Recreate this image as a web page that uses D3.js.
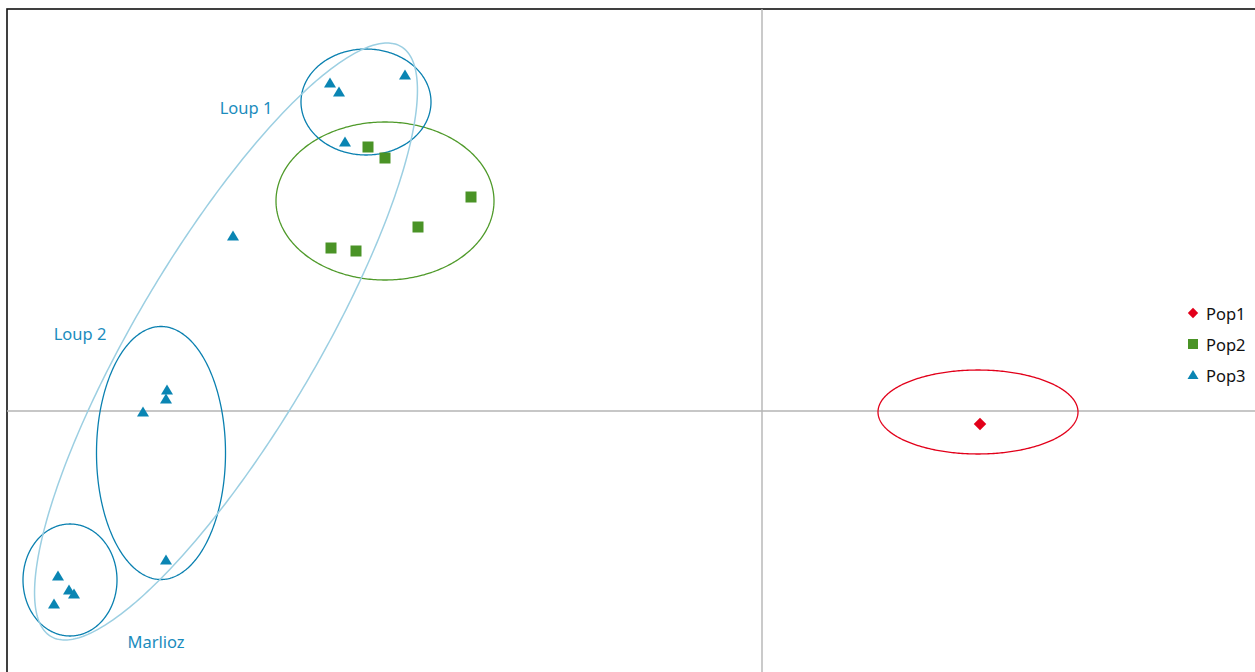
<!DOCTYPE html>
<html><head><meta charset="utf-8">
<script src="https://cdn.jsdelivr.net/npm/d3@7/dist/d3.min.js"></script>
<style>
html,body{margin:0;padding:0;background:#fff;}
svg{display:block;}
text{font-family:"Noto Sans","DejaVu Sans",sans-serif;}
</style></head>
<body>
<svg id="chart" width="1255" height="672"></svg>
<script>
// ---- data ----
const seriesNames = ["Pop1", "Pop2", "Pop3"];
const pop1X = [2.18];
const pop1Y = [-0.13];
const pop2X = [-3.94, -3.77, -2.91, -3.44, -4.31, -4.06];
const pop2Y = [2.64, 2.53, 2.14, 1.84, 1.63, 1.60];
const pop3X = [-4.32, -4.23, -3.57, -4.17, -5.29, -5.95, -5.96, -6.19, -5.96, -7.04, -6.93, -6.88, -7.08];
const pop3Y = [3.28, 3.19, 3.36, 2.69, 1.75, 0.21, 0.12, -0.01, -1.49, -1.65, -1.79, -1.83, -1.93];
// ellipses: centre x, centre y, half width, half height, tilt (deg)
const ellipseNames = ["Pop1", "Pop2", "Loup 1", "Loup 2", "Marlioz", "Pop3"];
const ellipseCX = [2.16, -3.77, -3.96, -6.01, -6.92, -5.36];
const ellipseCY = [-0.01, 2.10, 3.09, -0.42, -1.69, 0.695];
const ellipseRX = [1.00, 1.09, 0.65, 0.645, 0.47, 0.90];
const ellipseRY = [0.42, 0.79, 0.53, 1.265, 0.56, 3.43];
const ellipseTilt = [0, 0, 0, 0, 0, 30.7];
const groupLabels = ["Loup 1", "Loup 2", "Marlioz"];
const labelX = [-5.16, -6.82, -6.06];
const labelY = [3.04, 0.78, -2.30];

// ---- styles ----
const colors = {Pop1:"#e2001a", Pop2:"#4a9326", Pop3:"#0a85b3"};
const ellipseColors = ["#e2001a", "#4f9a2a", "#0a80b0", "#0a80b0", "#0a80b0", "#9ccfe2"];

const svg = d3.select("#chart");
const x = d3.scaleLinear().domain([-7.55, 4.93]).range([7, 1255]);
const y = d3.scaleLinear().domain([4.02, -2.61]).range([9, 672]);

// frame
svg.append("rect").attr("x", x(-7.55)).attr("y", y(4.02))
  .attr("width", 1300).attr("height", 700)
  .attr("fill", "none").attr("stroke", "#111").attr("stroke-width", 1.6);

// zero axes
svg.append("line").attr("x1", x(0)).attr("x2", x(0)).attr("y1", y(4.02)).attr("y2", y(-2.61))
  .attr("stroke", "#b4b4b4").attr("stroke-width", 1.4);
svg.append("line").attr("x1", x(-7.55)).attr("x2", x(4.93)).attr("y1", y(0)).attr("y2", y(0))
  .attr("stroke", "#b4b4b4").attr("stroke-width", 1.4);

// ellipses
const line = d3.line().curve(d3.curveLinearClosed);
ellipseCX.forEach((cx, i) => {
  const rx = ellipseRX[i], ry = ellipseRY[i], t = ellipseTilt[i] * Math.PI / 180;
  const pts = d3.range(0, 360, 1).map(a => {
    const r = a * Math.PI / 180;
    const lx = rx * Math.cos(r), ly = ry * Math.sin(r);
    const dx = lx * Math.cos(t) + ly * Math.sin(t);
    const dy = -lx * Math.sin(t) + ly * Math.cos(t);
    return [x(cx + dx), y(ellipseCY[i] + dy)];
  });
  svg.append("path").attr("d", line(pts)).attr("fill", "none")
    .attr("stroke", ellipseColors[i]).attr("stroke-width", i === 5 ? 1.5 : 1.3);
});

// markers
const g = svg.append("g");
g.selectAll(".p1").data(pop1X.map((v, i) => [v, pop1Y[i]])).join("path")
  .attr("d", d3.symbol(d3.symbolSquare, 78)())
  .attr("transform", d => `translate(${x(d[0])},${y(d[1])}) rotate(45)`)
  .attr("fill", colors.Pop1);
g.selectAll(".p2").data(pop2X.map((v, i) => [v, pop2Y[i]])).join("rect")
  .attr("x", d => x(d[0]) - 5.5).attr("y", d => y(d[1]) - 5.5)
  .attr("width", 11).attr("height", 11).attr("fill", colors.Pop2);
g.selectAll(".p3").data(pop3X.map((v, i) => [v, pop3Y[i]])).join("path")
  .attr("d", "M0,-5.5L6,4.5L-6,4.5Z")
  .attr("transform", d => `translate(${x(d[0])},${y(d[1])})`)
  .attr("fill", colors.Pop3);

// group labels
groupLabels.forEach((t, i) => {
  svg.append("text").attr("x", x(labelX[i])).attr("y", y(labelY[i]))
    .attr("text-anchor", "middle").attr("dominant-baseline", "central")
    .attr("font-size", 16.5).attr("fill", "#1b8cbd").text(t);
});

// legend
const legend = svg.append("g").attr("transform", "translate(1193,313)");
seriesNames.forEach((s, i) => {
  const row = legend.append("g").attr("transform", `translate(0,${i * 31})`);
  if (s === "Pop1") row.append("path").attr("d", d3.symbol(d3.symbolSquare, 54)()).attr("transform", "rotate(45)").attr("fill", colors[s]);
  if (s === "Pop2") row.append("rect").attr("x", -5).attr("y", -5).attr("width", 10).attr("height", 10).attr("fill", colors[s]);
  if (s === "Pop3") row.append("path").attr("d", "M0,-5L5.5,4L-5.5,4Z").attr("fill", colors[s]);
  row.append("text").attr("x", 13).attr("y", 0).attr("dominant-baseline", "central")
    .attr("font-size", 16.5).attr("fill", "#111").text(s);
});
</script>
</body></html>
